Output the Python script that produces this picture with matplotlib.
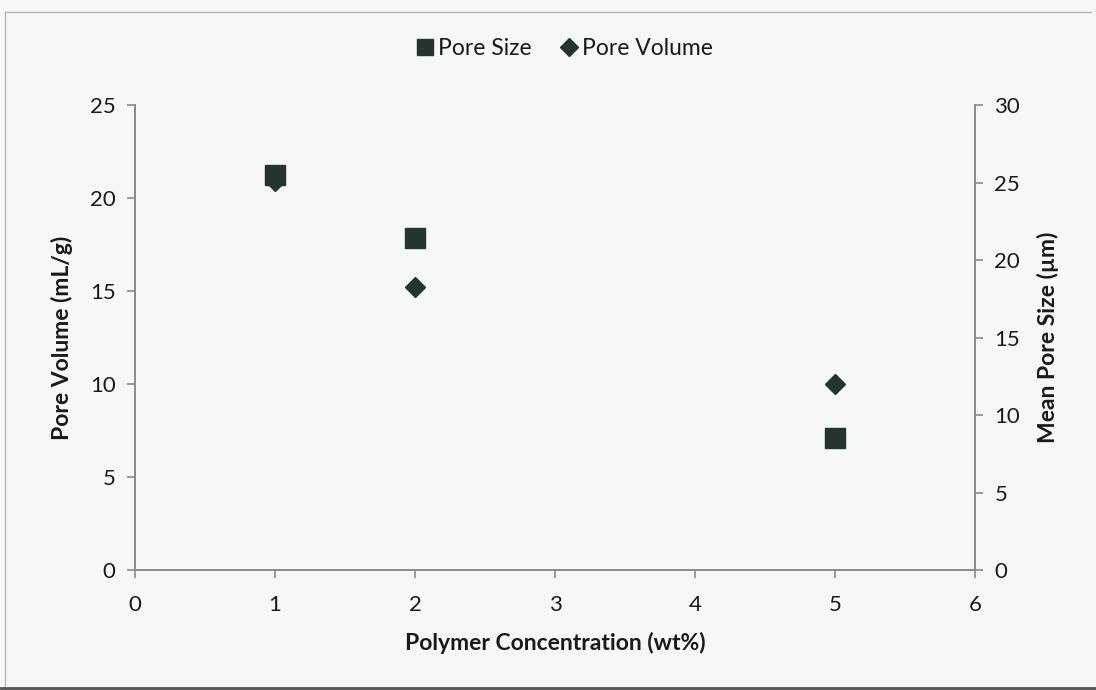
import matplotlib
matplotlib.use("Agg")
import matplotlib.pyplot as plt
from matplotlib.lines import Line2D

# Polymer concentration (wt%)
concentration = [1, 2, 5]
# Pore volume (mL/g), left axis
pore_volume = [20.9, 15.2, 10.0]
# Mean pore size (um), right axis
pore_size = [25.5, 21.4, 8.5]

x_ticks = [0, 1, 2, 3, 4, 5, 6]
left_ticks = [0, 5, 10, 15, 20, 25]
right_ticks = [0, 5, 10, 15, 20, 25, 30]

plt.rcParams['font.family'] = ['Lato', 'DejaVu Sans']

bg = '#f6f7f9'
mark = '#24352f'
axis_col = '#8a8a8a'
text_col = '#1a1a1a'

fig = plt.figure(figsize=(10.96, 6.9), dpi=100, facecolor=bg)
ax = fig.add_axes([0.1232, 0.1739, 0.7664, 0.6739])
ax.set_facecolor('none')

ax.plot(concentration, pore_volume, linestyle='none', marker='D',
        markersize=10.5, color=mark, zorder=3)
ax.set_xlim(0, 6)
ax.set_ylim(0, 25)
ax.set_xticks(x_ticks)
ax.set_yticks(left_ticks)

ax2 = ax.twinx()
ax2.plot(concentration, pore_size, linestyle='none', marker='s',
         markersize=14, color=mark, zorder=3)
ax2.set_ylim(0, 30)
ax2.set_yticks(right_ticks)

for a in (ax, ax2):
    a.spines['top'].set_visible(False)
    for s in ('left', 'right', 'bottom'):
        a.spines[s].set_color(axis_col)
        a.spines[s].set_linewidth(1.2)
    a.tick_params(colors=axis_col, labelcolor=text_col, labelsize=16,
                  length=6, width=1.2, direction='out', pad=8)
ax.tick_params(axis='x', pad=12)

ax.set_xlabel('Polymer Concentration (wt%)', fontsize=16.5, fontweight='bold',
              color=text_col, labelpad=12)
ax.set_ylabel('Pore Volume (mL/g)', fontsize=16.5, fontweight='bold',
              color=text_col, labelpad=12)
ax2.set_ylabel('Mean Pore Size (\u00b5m)', fontsize=16.5, fontweight='bold',
               color=text_col, labelpad=12)

handles = [
    Line2D([], [], linestyle='none', marker='s', markersize=12, color=mark),
    Line2D([], [], linestyle='none', marker='D', markersize=9, color=mark),
]
fig.legend(handles, ['Pore Size', 'Pore Volume'], loc='center',
           bbox_to_anchor=(0.515, 0.929), ncol=2, frameon=False,
           fontsize=16.5, handlelength=0.8, handletextpad=0.2,
           columnspacing=1.2, labelcolor=text_col)

# Chart frame
fig.add_artist(Line2D([0.005, 0.995], [0.983, 0.983], color='#b8b8b8',
                      linewidth=1.0, transform=fig.transFigure))
fig.add_artist(Line2D([0.005, 0.005], [0.0, 0.983], color='#b8b8b8',
                      linewidth=1.0, transform=fig.transFigure))
fig.add_artist(Line2D([0.0, 1.0], [0.003, 0.003], color='#555555',
                      linewidth=2.0, transform=fig.transFigure))

fig.savefig('out.png', dpi=100, facecolor=bg)
